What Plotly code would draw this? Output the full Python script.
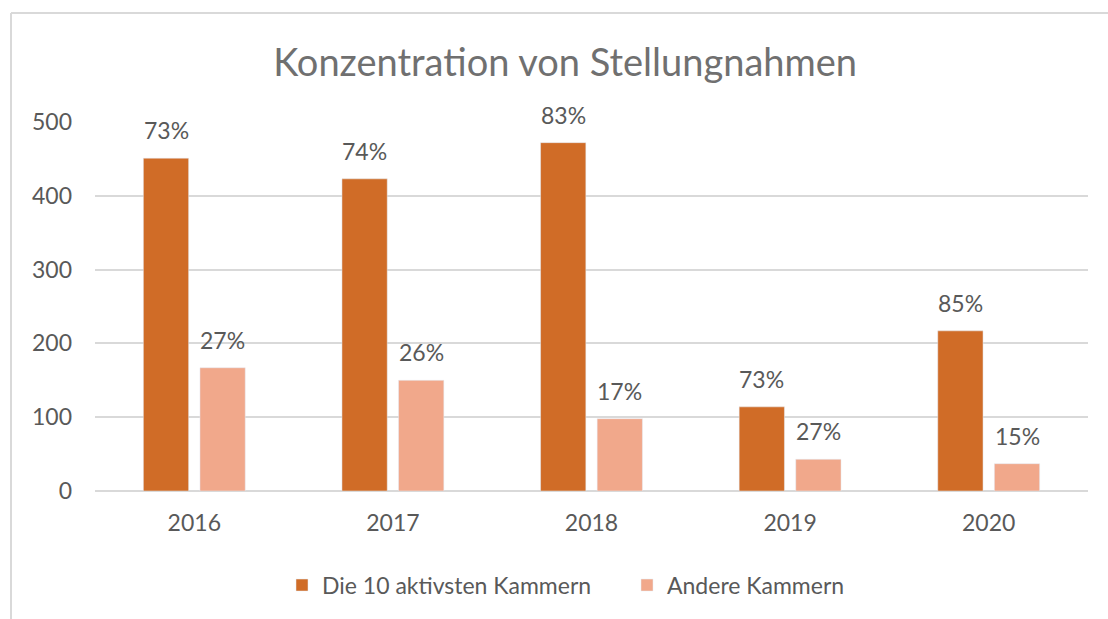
import plotly.graph_objects as go

years = ["2016", "2017", "2018", "2019", "2020"]
top10 = [451, 423, 472, 114, 217]
andere = [167, 150, 98, 43, 37]
top10_labels = ["73%", "74%", "83%", "73%", "85%"]
andere_labels = ["27%", "26%", "17%", "27%", "15%"]

FONT = "Lato, 'Open Sans', sans-serif"
GRAY = "#595959"
FS = 23

fig = go.Figure()
fig.add_trace(go.Bar(x=years, y=top10, name="Die 10 aktivsten Kammern",
                     marker=dict(color="#D06C27")))
fig.add_trace(go.Bar(x=years, y=andere, name="Andere Kammern",
                     marker=dict(color="#F1A88B")))

# category axis: annotations placed by category index, offset to each bar of the group
annotations = []
for series, labels, dx in ((top10, top10_labels, -28.3), (andere, andere_labels, 28.3)):
    for i, (v, lab) in enumerate(zip(series, labels)):
        annotations.append(dict(x=i, y=v, xref="x", yref="y", text=lab, showarrow=False,
                                xshift=dx, yshift=28, yanchor="middle",
                                font=dict(size=FS, color=GRAY, family=FONT)))

fig.update_layout(
    width=1108, height=619,
    margin=dict(l=95, r=20, t=122, b=128),
    paper_bgcolor="white", plot_bgcolor="white",
    barmode="group", bargap=0.43, bargroupgap=0.2,
    title=dict(text="Konzentration von Stellungnahmen", x=0.51, xanchor="center",
               y=1 - 63 / 619, yanchor="middle",
               font=dict(size=38, color="#707070", family=FONT)),
    font=dict(family=FONT, color=GRAY),
    showlegend=True,
    legend=dict(orientation="h", x=(282 - 95) / 993, xanchor="left", y=-0.255, yanchor="middle",
                font=dict(size=FS, color=GRAY, family=FONT), itemwidth=30,
                entrywidth=300, entrywidthmode="pixels",
                traceorder="normal"),
    xaxis=dict(type="category", range=[-0.5, len(years) - 0.5], showgrid=False,
               showline=False, ticks="",
               tickfont=dict(size=FS, color=GRAY), ticklabelstandoff=16),
    yaxis=dict(range=[0, 500], dtick=100, showgrid=True, gridcolor="#d9d9d9", gridwidth=1.5,
               zeroline=True, zerolinecolor="#d9d9d9", zerolinewidth=1.5, showline=False,
               ticks="", tickfont=dict(size=FS, color=GRAY), ticklabelstandoff=22),
    annotations=annotations,
    shapes=[
        dict(type="line", xref="paper", yref="paper", x0=(11 - 95) / 993, x1=(11 - 95) / 993,
             y0=(491 - 13) / 369, y1=(491 - 625) / 369, line=dict(color="#d9d9d9", width=2)),
        dict(type="line", xref="paper", yref="paper", x0=(11 - 95) / 993, x1=(1115 - 95) / 993,
             y0=(491 - 13) / 369, y1=(491 - 13) / 369, line=dict(color="#d9d9d9", width=2)),
    ],
)

fig.write_html("out.html")
